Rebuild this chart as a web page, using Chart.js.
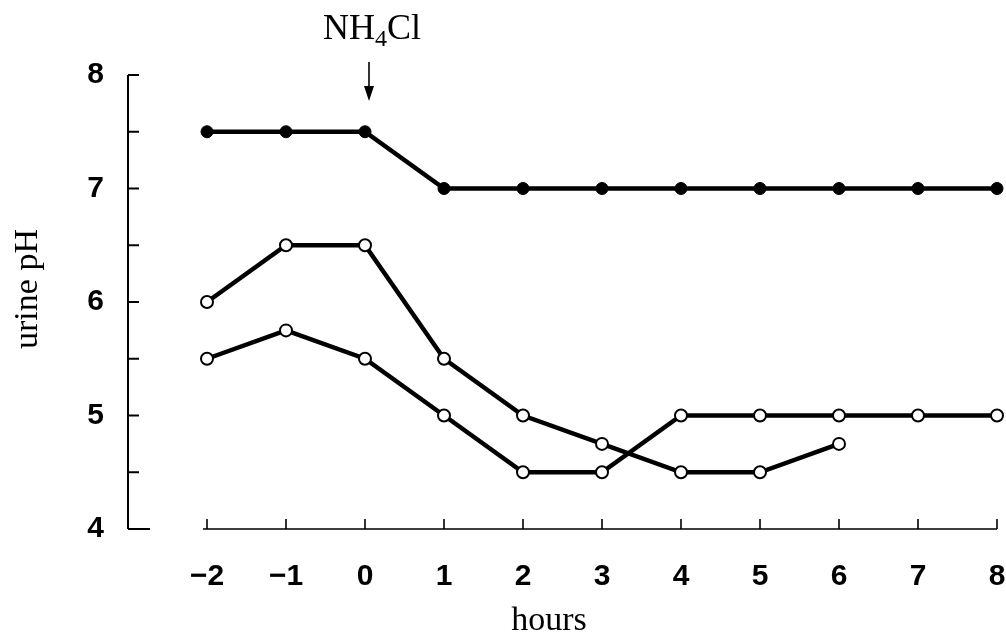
<!DOCTYPE html>
<html lang="en">
<head>
    <meta charset="UTF-8">
    <title>urine pH after NH4Cl</title>
    <script src="https://cdn.jsdelivr.net/npm/chart.js"></script>
    <style>
        body { margin: 0; background: #fff; }
        #wrap { width: 1006px; height: 637px; }
    </style>
</head>
<body>
    <div id="wrap"><canvas id="phChart" width="1006" height="637"></canvas></div>

    <script>
        // hours relative to NH4Cl dose
        var hours = [-2, -1, 0, 1, 2, 3, 4, 5, 6, 7, 8];
        // filled dots
        var phFilled = [7.5, 7.5, 7.5, 7, 7, 7, 7, 7, 7, 7, 7];
        // open dots, upper curve (stops at 6 h)
        var phOpenA = [6, 6.5, 6.5, 5.5, 5, 4.75, 4.5, 4.5, 4.75, null, null];
        // open dots, lower curve
        var phOpenB = [5.5, 5.75, 5.5, 5, 4.5, 4.5, 5, 5, 5, 5, 5];
        var yTickLabels = [4, 5, 6, 7, 8];

        function toPoints(vals) {
            var pts = [];
            for (var i = 0; i < hours.length; i++) {
                if (vals[i] !== null) pts.push({ x: hours[i], y: vals[i] });
            }
            return pts;
        }

        var sansFont = "'Liberation Sans', Arial, sans-serif";
        var serifFont = "'Liberation Serif', 'Times New Roman', serif";

        // axes drawn by hand: inward ticks, separate x baseline, titles and the arrow
        var axesPlugin = {
            id: 'handAxes',
            afterDraw: function (chart) {
                var ctx = chart.ctx;
                var xs = chart.scales.x, ys = chart.scales.y;
                var left = xs.getPixelForValue(-3);
                var base = ys.getPixelForValue(4);
                ctx.save();
                ctx.strokeStyle = '#000';
                ctx.lineCap = 'butt';

                // y axis
                ctx.lineWidth = 2;
                ctx.beginPath();
                ctx.moveTo(left, ys.getPixelForValue(8));
                ctx.lineTo(left, base);
                ys.ticks.forEach(function (t) {
                    var py = ys.getPixelForValue(t.value);
                    ctx.moveTo(left, py);
                    ctx.lineTo(left + 11, py);
                });
                ctx.stroke();
                // bottom tick runs a little longer
                ctx.beginPath();
                ctx.moveTo(left, base);
                ctx.lineTo(left + 22, base);
                ctx.stroke();

                // x axis
                ctx.lineWidth = 1.6;
                ctx.beginPath();
                ctx.moveTo(xs.getPixelForValue(-2) - 4, base);
                ctx.lineTo(xs.getPixelForValue(8), base);
                hours.forEach(function (h) {
                    var px = xs.getPixelForValue(h);
                    ctx.moveTo(px, base);
                    ctx.lineTo(px, base - 10);
                });
                ctx.stroke();

                // axis titles
                ctx.fillStyle = '#000';
                ctx.font = '34px ' + serifFont;
                ctx.textAlign = 'center';
                ctx.textBaseline = 'alphabetic';
                ctx.fillText('hours', 549, 630);
                ctx.save();
                ctx.translate(37, 289);
                ctx.rotate(-Math.PI / 2);
                ctx.fillText('urine pH', 0, 0);
                ctx.restore();

                // NH4Cl marker
                var ax = xs.getPixelForValue(0) + 4;
                ctx.textAlign = 'left';
                ctx.font = '36px ' + serifFont;
                var x0 = 323, by = 39;
                ctx.fillText('NH', x0, by);
                var w = ctx.measureText('NH').width;
                ctx.font = '24px ' + serifFont;
                ctx.fillText('4', x0 + w, by + 7);
                var w4 = ctx.measureText('4').width;
                ctx.font = '36px ' + serifFont;
                ctx.fillText('Cl', x0 + w + w4, by);

                ctx.lineWidth = 1.6;
                ctx.beginPath();
                ctx.moveTo(ax, 62);
                ctx.lineTo(ax, 96);
                ctx.stroke();
                ctx.beginPath();
                ctx.moveTo(ax - 5, 86);
                ctx.lineTo(ax, 101);
                ctx.lineTo(ax + 5, 86);
                ctx.closePath();
                ctx.fill();
                ctx.restore();
            }
        };

        function lineSet(vals, filled) {
            return {
                data: toPoints(vals),
                borderColor: '#000',
                borderWidth: 4.5,
                backgroundColor: filled ? '#000' : '#fff',
                pointBackgroundColor: filled ? '#000' : '#fff',
                pointBorderColor: '#000',
                pointBorderWidth: filled ? 1 : 2,
                pointRadius: 6,
                pointHoverRadius: 6,
                tension: 0,
                fill: false,
                clip: false
            };
        }

        new Chart(document.getElementById('phChart').getContext('2d'), {
            type: 'line',
            data: {
                datasets: [
                    lineSet(phFilled, true),
                    lineSet(phOpenA, false),
                    lineSet(phOpenB, false)
                ]
            },
            options: {
                responsive: false,
                animation: false,
                layout: { autoPadding: false, padding: { top: 75, right: 9, left: 0, bottom: 0 } },
                plugins: {
                    legend: { display: false },
                    tooltip: { enabled: false }
                },
                scales: {
                    x: {
                        type: 'linear',
                        min: -3,
                        max: 8,
                        grid: { display: false, drawTicks: false },
                        border: { display: false },
                        afterFit: function (s) {
                            s.height = 108;
                            s.paddingLeft = 0;
                            s.paddingRight = 0;
                        },
                        ticks: {
                            stepSize: 1,
                            padding: 30,
                            maxRotation: 0,
                            autoSkip: false,
                            color: '#000',
                            font: { family: sansFont, size: 30, weight: 'bold' },
                            callback: function (v) {
                                if (hours.indexOf(v) < 0) return '';
                                return v < 0 ? '\u2212' + Math.abs(v) : String(v);
                            }
                        }
                    },
                    y: {
                        min: 4,
                        max: 8,
                        grid: { display: false, drawTicks: false },
                        border: { display: false },
                        afterFit: function (s) {
                            s.width = 128;
                            s.paddingTop = 0;
                            s.paddingBottom = 0;
                        },
                        ticks: {
                            stepSize: 0.5,
                            padding: 24,
                            color: '#000',
                            font: { family: sansFont, size: 30, weight: 'bold' },
                            callback: function (v) {
                                return yTickLabels.indexOf(v) >= 0 ? String(v) : '';
                            }
                        }
                    }
                }
            },
            plugins: [axesPlugin]
        });
    </script>
</body>
</html>
